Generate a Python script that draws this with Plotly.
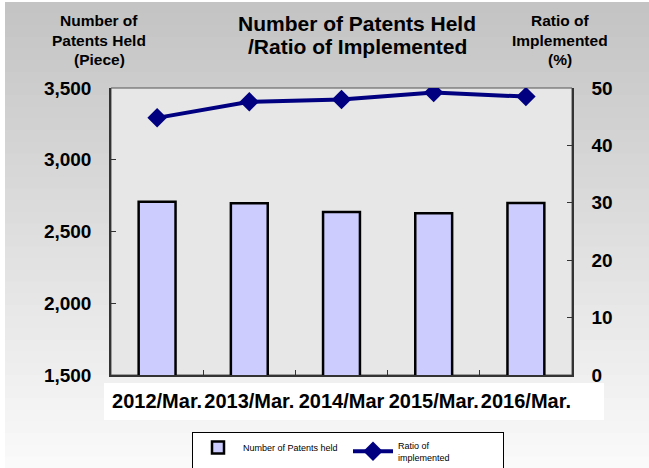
import plotly.graph_objects as go

YEARS = ["2012/Mar.", "2013/Mar.", "2014/Mar", "2015/Mar.", "2016/Mar."]
PATENTS_HELD = [2708, 2696, 2636, 2627, 2699]
RATIO_IMPLEMENTED = [44.8, 47.6, 48.0, 49.2, 48.5]

LEFT_TICKS = [1500, 2000, 2500, 3000, 3500]
RIGHT_TICKS = [0, 10, 20, 30, 40, 50]

FONT = "Arial, 'Liberation Sans', sans-serif"

# plot area in pixels
W, H = 649, 468
L, R, T, B = 111, 572, 88, 375


def px_x(x):
    return (x - L) / (R - L)


def px_y(y):
    return (B - y) / (B - T)


def background_shapes(n_bands=40):
    """Gray-to-white vertical gradient behind the chart plus the plot-area fill."""
    shapes = []
    top, bottom = 2, H
    step = (bottom - top) / n_bands
    for i in range(n_bands):
        t = i / (n_bands - 1)
        c = int(196 + (250 - 196) * t)
        shapes.append(dict(
            type="rect", xref="paper", yref="paper", layer="below",
            x0=px_x(5), x1=px_x(W), y0=px_y(top + i * step), y1=px_y(top + (i + 1) * step + 1),
            fillcolor=f"rgb({c},{c},{c})", line_width=0,
        ))
    # white strip behind the category labels
    shapes.append(dict(
        type="rect", xref="paper", yref="paper", layer="below",
        x0=px_x(104), x1=px_x(604), y0=px_y(383), y1=px_y(420),
        fillcolor="white", line_width=0,
    ))
    # plot area
    shapes.append(dict(
        type="rect", xref="paper", yref="paper", layer="below",
        x0=0, x1=1, y0=0, y1=1,
        fillcolor="#e7e7e7", line=dict(color="#555555", width=1),
    ))
    return shapes


def title_annotations():
    notes = []
    blocks = [
        (357, ["Number of Patents Held", "/Ratio of Implemented"], [23, 46], 21),
        (99, ["Number of", "Patents Held", "(Piece)"], [21, 40, 60], 15.5),
        (560, ["Ratio of", "Implemented", "(%)"], [21, 40, 60], 15.5),
    ]
    for x, lines, ys, size in blocks:
        for text, y in zip(lines, ys):
            notes.append(dict(
                text=text, xref="paper", yref="paper",
                x=px_x(x), y=px_y(y), xanchor="center", yanchor="middle",
                showarrow=False,
                font=dict(family=FONT, size=size, color="black", weight="bold"),
            ))
    return notes


def axis_style(**extra):
    style = dict(
        showgrid=False,
        zeroline=False,
        ticks="inside",
        ticklen=5,
        tickcolor="#333333",
        showline=True,
        linecolor="#333333",
        linewidth=1.5,
        automargin=False,
        tickangle=0,
        tickfont=dict(family=FONT, size=19, color="black", weight="bold"),
    )
    style.update(extra)
    return style


fig = go.Figure()

fig.add_trace(go.Bar(
    x=YEARS,
    y=PATENTS_HELD,
    name="Number of Patents held",
    marker=dict(color="#ccccff", line=dict(color="black", width=2.5)),
    yaxis="y",
))

fig.add_trace(go.Scatter(
    x=YEARS,
    y=RATIO_IMPLEMENTED,
    name="Ratio of<br>implemented",
    mode="lines+markers",
    line=dict(color="#000080", width=4),
    marker=dict(symbol="diamond", size=15, color="#000080"),
    yaxis="y2",
))

fig.update_layout(
    width=W,
    height=H,
    margin=dict(l=L, r=W - R, t=T, b=H - B, pad=0, autoexpand=False),
    paper_bgcolor="white",
    plot_bgcolor="rgba(0,0,0,0)",
    font=dict(family=FONT, color="black"),
    bargap=0.6,
    showlegend=True,
    legend=dict(
        orientation="h",
        x=px_x(348), xanchor="center",
        y=px_y(432), yanchor="top",
        bgcolor="white",
        bordercolor="black",
        borderwidth=1,
        font=dict(family=FONT, size=9, color="black"),
        itemwidth=40,
        entrywidth=100,
        entrywidthmode="pixels",
        tracegroupgap=0,
    ),
    xaxis=axis_style(
        tickson="boundaries",
        tickfont=dict(family=FONT, size=20, color="black", weight="bold"),
        ticklabelstandoff=7,
    ),
    yaxis=axis_style(
        range=[1500, 3500],
        tickvals=LEFT_TICKS,
        tickformat=",",
        ticklabelstandoff=14,
    ),
    yaxis2=axis_style(
        range=[0, 50],
        tickvals=RIGHT_TICKS,
        overlaying="y",
        side="right",
        ticklabelstandoff=14,
    ),
    shapes=background_shapes(),
    annotations=title_annotations(),
)

# the page's default body margin would push the figure 8px down and right
fig.write_html(
    "out.html",
    config={"displayModeBar": False},
    post_script="document.body.style.margin = '0';",
)
